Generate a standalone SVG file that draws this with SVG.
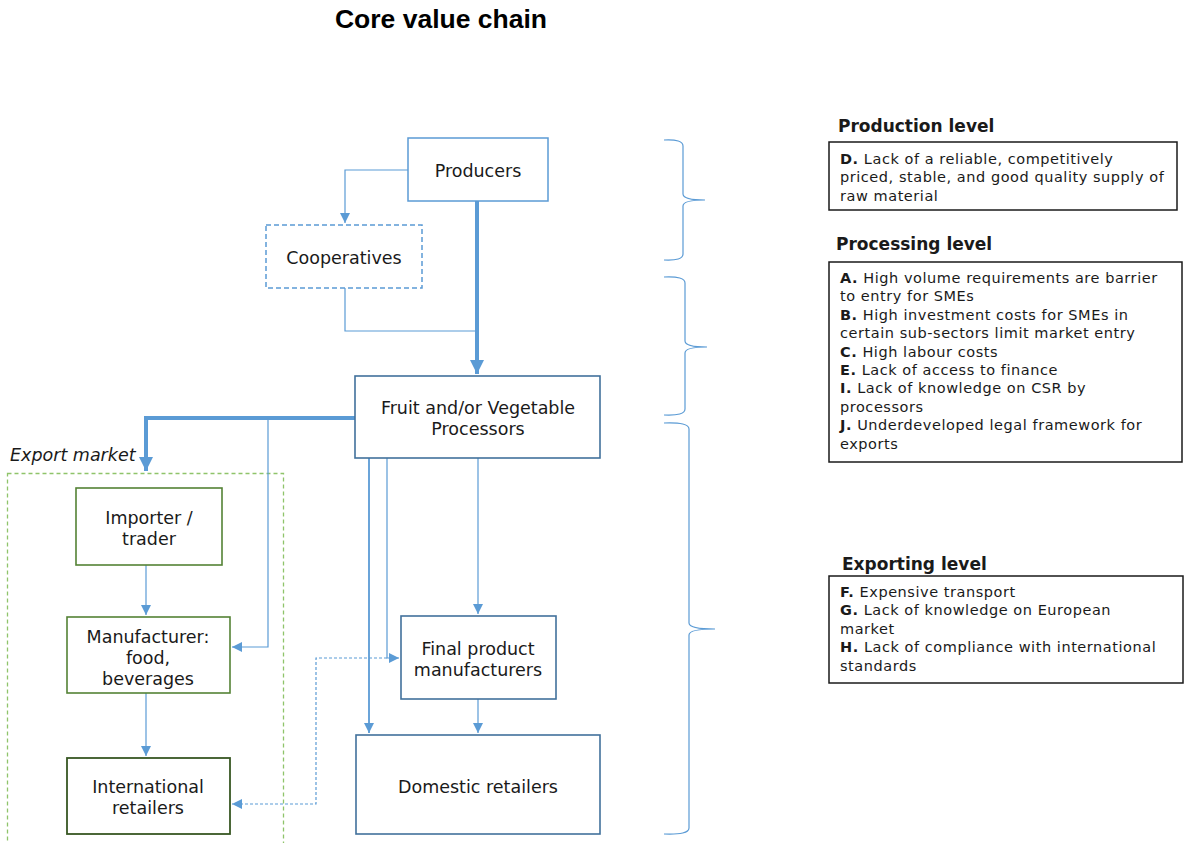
<svg xmlns="http://www.w3.org/2000/svg" width="1185" height="843" viewBox="0 0 1185 843">
<style>
.t{font-family:"DejaVu Sans",Verdana,sans-serif;fill:#1a1a1a}
.n{font-size:17.5px;text-anchor:middle}
.s{font-size:14.5px;letter-spacing:0.55px}
.h{font-size:17px;font-weight:bold}
.b{font-weight:bold}
.title{font-family:"Liberation Sans",Arial,sans-serif;font-size:26.5px;font-weight:bold;text-anchor:middle;fill:#000}
.bl{fill:#fff;stroke:#5B9BD5;stroke-width:1.5}
.bd{fill:#fff;stroke:#41719C;stroke-width:1.6}
.gr{fill:#fff;stroke:#548235;stroke-width:1.6}
.gd{fill:#fff;stroke:#385723;stroke-width:1.8}
.lb{fill:#fff;stroke:#1a1a1a;stroke-width:1.5}
.c{fill:none;stroke:#5B9BD5;stroke-width:1.2}
.br{fill:none;stroke:#5B9BD5;stroke-width:1.2}
</style>
<defs>
<marker id="a" viewBox="0 0 10 10" refX="10" refY="5" markerWidth="10" markerHeight="10" markerUnits="userSpaceOnUse" orient="auto"><path d="M0,0 L10,5 L0,10 z" fill="#5B9BD5"/></marker>
<marker id="ab" viewBox="0 0 10 10" refX="10" refY="5" markerWidth="16" markerHeight="14" markerUnits="userSpaceOnUse" orient="auto"><path d="M0,0 L10,5 L0,10 z" fill="#5B9BD5"/></marker>
</defs>
<rect width="1185" height="843" fill="#fff"/>
<text class="title" x="441" y="28">Core value chain</text>

<g id="export-market">
<rect x="7.5" y="473.5" width="276" height="380" fill="none" stroke="#8FC46A" stroke-width="1.3" stroke-dasharray="4,3"/>
<text class="t" x="10" y="461" style="font-size:17.5px;font-style:italic">Export market</text>
</g>

<g id="connectors">
<path class="c" d="M408,170 H345 V223"  marker-end="url(#a)"/>
<path class="c" d="M345,288 V331 H477"/>
<path class="c" d="M477,201 V374" style="stroke-width:4" marker-end="url(#ab)"/>
<path class="c" d="M355,418 H146 V471" style="stroke-width:4" marker-end="url(#ab)"/>
<path class="c" d="M268,418 V647 H232" marker-end="url(#a)"/>
<path class="c" d="M146,565 V615" marker-end="url(#a)"/>
<path class="c" d="M146,693 V756" marker-end="url(#a)"/>
<path class="c" d="M369,458 V733" style="stroke-width:1.8" marker-end="url(#a)"/>
<path class="c" d="M387,458 V658 H399" marker-end="url(#a)"/>
<path class="c" d="M478,458 V614" marker-end="url(#a)"/>
<path class="c" d="M478,699 V733" marker-end="url(#a)"/>
<path class="c" d="M392,658 H316 V804 H232" style="stroke-dasharray:3,2" marker-end="url(#a)"/>
</g>

<g id="producers"><rect class="bl" x="408" y="138" width="140" height="63"/><text class="t n" x="478" y="177">Producers</text></g>
<g id="cooperatives"><rect class="bl" x="266" y="225" width="156" height="63" style="stroke-dasharray:5,3"/><text class="t n" x="344" y="264">Cooperatives</text></g>
<g id="processors"><rect class="bd" x="355" y="376" width="245" height="82"/><text class="t n" x="478" y="414">Fruit and/or Vegetable</text><text class="t n" x="478" y="435">Processors</text></g>
<g id="importer"><rect class="gr" x="76" y="488" width="146" height="77"/><text class="t n" x="149" y="524">Importer /</text><text class="t n" x="149" y="545">trader</text></g>
<g id="manufacturer"><rect class="gr" x="67" y="617" width="163" height="76"/><text class="t n" x="148" y="643">Manufacturer:</text><text class="t n" x="148" y="664">food,</text><text class="t n" x="148" y="685">beverages</text></g>
<g id="intl-retailers"><rect class="gd" x="67" y="758" width="163" height="76"/><text class="t n" x="148" y="793">International</text><text class="t n" x="148" y="814">retailers</text></g>
<g id="final-product"><rect class="bd" x="401" y="616" width="155" height="83"/><text class="t n" x="478" y="655">Final product</text><text class="t n" x="478" y="676">manufacturers</text></g>
<g id="domestic-retailers"><rect class="bd" x="356" y="735" width="244" height="99"/><text class="t n" x="478" y="793">Domestic retailers</text></g>

<g id="braces">
<path class="br" d="M664,140 Q683,139 683,146 V194 Q683,200 705,200 Q683,200 683,206 V254 Q683,261 664,260"/>
<path class="br" d="M664,277 Q685,276 685,283 V341 Q685,347 707,347 Q685,347 685,353 V409 Q685,416 664,415"/>
<path class="br" d="M664,423 Q689,422 689,429 V623 Q689,629 715,629 Q689,629 689,635 V828 Q689,835 664,834"/>
</g>

<g id="production-level">
<text class="t h" x="838" y="132">Production level</text>
<rect class="lb" x="829" y="142" width="348" height="68"/>
<text class="t s" x="840" y="164"><tspan class="b">D.</tspan> Lack of a reliable, competitively</text>
<text class="t s" x="840" y="182">priced, stable, and good quality supply of</text>
<text class="t s" x="840" y="201">raw material</text>
</g>
<g id="processing-level">
<text class="t h" x="836" y="250">Processing level</text>
<rect class="lb" x="829" y="262" width="353" height="200"/>
<text class="t s" x="840" y="283"><tspan class="b">A.</tspan> High volume requirements are barrier</text>
<text class="t s" x="840" y="301">to entry for SMEs</text>
<text class="t s" x="840" y="320"><tspan class="b">B.</tspan> High investment costs for SMEs in</text>
<text class="t s" x="840" y="338">certain sub-sectors limit market entry</text>
<text class="t s" x="840" y="357"><tspan class="b">C.</tspan> High labour costs</text>
<text class="t s" x="840" y="375"><tspan class="b">E.</tspan> Lack of access to finance</text>
<text class="t s" x="840" y="393"><tspan class="b">I.</tspan> Lack of knowledge on CSR by</text>
<text class="t s" x="840" y="412">processors</text>
<text class="t s" x="840" y="430"><tspan class="b">J.</tspan> Underdeveloped legal framework for</text>
<text class="t s" x="840" y="449">exports</text>
</g>
<g id="exporting-level">
<text class="t h" x="842" y="570">Exporting level</text>
<rect class="lb" x="829" y="576" width="354" height="107"/>
<text class="t s" x="840" y="597"><tspan class="b">F.</tspan> Expensive transport</text>
<text class="t s" x="840" y="615"><tspan class="b">G.</tspan> Lack of knowledge on European</text>
<text class="t s" x="840" y="634">market</text>
<text class="t s" x="840" y="652"><tspan class="b">H.</tspan> Lack of compliance with international</text>
<text class="t s" x="840" y="671">standards</text>
</g>
</svg>
